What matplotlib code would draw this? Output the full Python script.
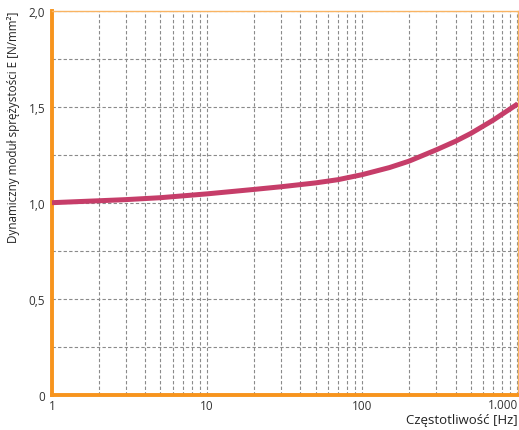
import matplotlib
matplotlib.use("Agg")
import matplotlib.pyplot as plt
import numpy as np
from matplotlib.ticker import FixedLocator, NullFormatter
from matplotlib.transforms import blended_transform_factory, ScaledTranslation

freq = [1, 2, 3, 5, 10, 20, 30, 50, 70, 100, 150, 200, 300, 400, 500, 700, 1000, 1010]
modulus = [1.000, 1.010, 1.016, 1.026, 1.046, 1.069, 1.083, 1.103, 1.120, 1.146,
           1.183, 1.216, 1.275, 1.320, 1.360, 1.430, 1.513, 1.518]

x_ticks = [1, 10, 100, 1000]
x_labels = ["1", "10", "100", "1.000"]
y_ticks = [0, 0.5, 1.0, 1.5, 2.0]
y_labels = ["0", "0,5", "1,0", "1,5", "2,0"]

plt.rcParams['font.family'] = ['Open Sans', 'DejaVu Sans']

fig = plt.figure(figsize=(5.19, 4.31), dpi=100)
ax = fig.add_axes([0.1002, 0.0818, 0.8978, 0.8912])

ax.plot(freq, modulus, color='#C63D69', lw=3.6, solid_capstyle='butt',
        solid_joinstyle='round', zorder=3, clip_on=True)

ax.set_xscale('log')
ax.set_xlim(1, 1010)
ax.set_ylim(0, 2.0)

ax.xaxis.set_major_locator(FixedLocator(x_ticks))
ax.set_xticklabels(x_labels[:-1] + [""])
minors = [m * 10 ** d for d in range(0, 3) for m in range(2, 10)]
ax.xaxis.set_minor_locator(FixedLocator(minors))
ax.xaxis.set_minor_formatter(NullFormatter())
ax.set_yticks(y_ticks)
ax.set_yticklabels(y_labels)
ax.yaxis.set_minor_locator(FixedLocator([0.25, 0.75, 1.25, 1.75]))

grid_kw = dict(color='#8a8a8a', lw=0.8, linestyle=(0, (3, 2)))
ax.grid(True, which='both', axis='both', **grid_kw)
ax.set_axisbelow(True)

ax.tick_params(which='both', length=0, labelsize=8.5, colors='#333333')
ax.tick_params(axis='x', pad=3)
ax.tick_params(axis='y', pad=5)

# last x tick label, right-aligned at the axis end
trans = blended_transform_factory(ax.transData, ax.transAxes) + \
    ScaledTranslation(1 / 100, -3 / 100, fig.dpi_scale_trans)
ax.text(x_ticks[-1], 0, x_labels[-1], transform=trans, ha='right', va='top',
        fontsize=8.5, color='#333333')

for s in ['left', 'bottom']:
    ax.spines[s].set_color('#F7941D')
    ax.spines[s].set_linewidth(2.8)
for s in ['top', 'right']:
    ax.spines[s].set_color('#F9B463')
    ax.spines[s].set_linewidth(1.0)

ax.set_ylabel('Dynamiczny moduł sprężystości E [N/mm²]', fontsize=8.4,
              color='#222222', labelpad=6, loc='top')
fig.text(0.998, 0.024, 'Częstotliwość [Hz]', ha='right', va='center',
         fontsize=9.5, color='#222222')

fig.savefig('out.png', dpi=100)
